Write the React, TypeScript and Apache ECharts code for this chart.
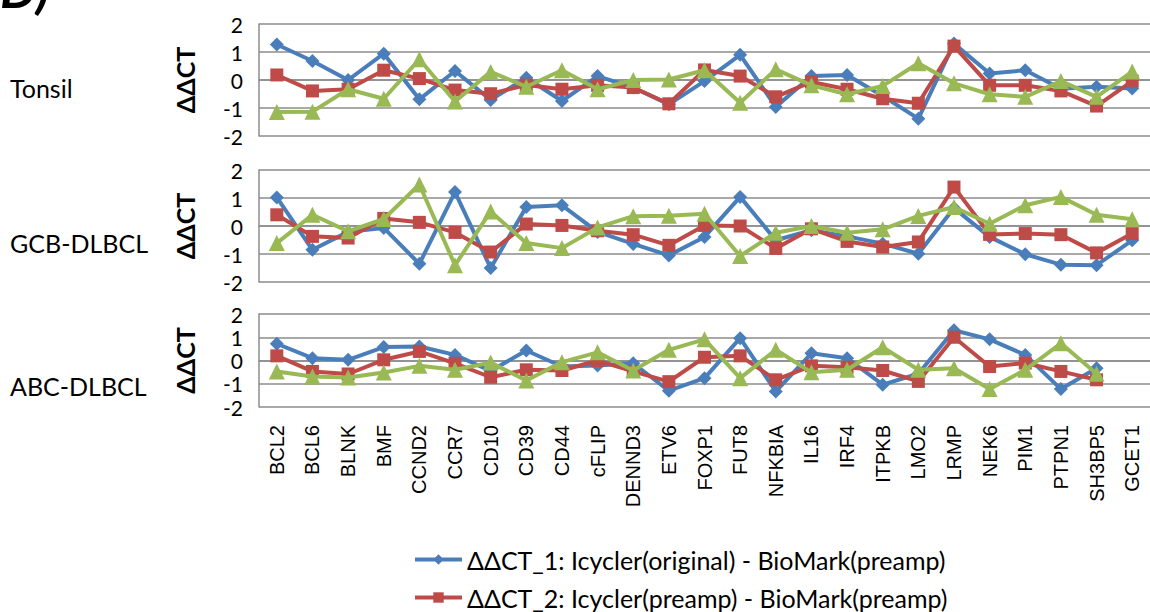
import React, { useEffect, useRef } from "react";
import * as echarts from "echarts";

const genes = ["BCL2","BCL6","BLNK","BMF","CCND2","CCR7","CD10","CD39","CD44","cFLIP","DENND3","ETV6","FOXP1","FUT8","NFKBIA","IL16","IRF4","ITPKB","LMO2","LRMP","NEK6","PIM1","PTPN1","SH3BP5","GCET1"];
const seriesNames = [
  "ΔΔCT_1: Icycler(original) - BioMark(preamp)",
  "ΔΔCT_2: Icycler(preamp) - BioMark(preamp)",
  "ΔΔCT_3: Icycler(preamp) - Icycler(original)",
];
const panelNames = ["Tonsil", "GCB-DLBCL", "ABC-DLBCL"];
const yTicks = [-2, -1, 0, 1, 2];

// Tonsil
const tonsil1 = [1.27,0.68,0,0.94,-0.69,0.32,-0.71,0.08,-0.75,0.14,-0.27,-0.87,-0.04,0.9,-0.96,0.14,0.18,-0.57,-1.38,1.3,0.23,0.35,-0.31,-0.24,-0.3];
const tonsil2 = [0.18,-0.39,-0.33,0.35,0.05,-0.36,-0.49,-0.18,-0.33,-0.19,-0.27,-0.85,0.36,0.14,-0.6,-0.07,-0.33,-0.67,-0.83,1.21,-0.19,-0.19,-0.39,-0.93,-0.04];
const tonsil3 = [-1.14,-1.13,-0.33,-0.67,0.74,-0.77,0.29,-0.24,0.35,-0.33,0,0.02,0.35,-0.81,0.38,-0.19,-0.51,-0.21,0.6,-0.12,-0.51,-0.6,-0.04,-0.6,0.3];
// GCB-DLBCL
const gcb1 = [1.02,-0.85,-0.21,-0.07,-1.35,1.21,-1.5,0.68,0.74,-0.21,-0.64,-1.05,-0.39,1.04,-0.51,-0.15,-0.37,-0.63,-0.99,0.64,-0.39,-1.01,-1.38,-1.4,-0.51];
const gcb2 = [0.4,-0.37,-0.43,0.27,0.13,-0.23,-0.93,0.07,0.02,-0.17,-0.31,-0.69,0.02,0,-0.8,-0.1,-0.55,-0.75,-0.57,1.39,-0.3,-0.27,-0.31,-0.96,-0.27];
const gcb3 = [-0.61,0.4,-0.19,0.25,1.48,-1.4,0.52,-0.61,-0.79,-0.05,0.35,0.37,0.44,-1.07,-0.24,0,-0.24,-0.12,0.36,0.68,0.08,0.74,1.04,0.4,0.24];
// ABC-DLBCL
const abc1 = [0.72,0.1,0.03,0.58,0.6,0.24,-0.45,0.43,-0.26,-0.22,-0.12,-1.3,-0.76,0.96,-1.33,0.31,0.1,-1.04,-0.57,1.3,0.91,0.24,-1.23,-0.33,null];
const abc2 = [0.2,-0.47,-0.58,0.03,0.39,-0.12,-0.72,-0.4,-0.43,0,-0.47,-0.91,0.14,0.2,-0.83,-0.23,-0.29,-0.43,-0.9,1.0,-0.26,-0.11,-0.47,-0.83,null];
const abc3 = [-0.47,-0.69,-0.73,-0.52,-0.23,-0.4,-0.09,-0.86,-0.07,0.35,-0.43,0.46,0.91,-0.76,0.46,-0.51,-0.4,0.57,-0.4,-0.33,-1.23,-0.4,0.74,-0.57,null];

const panelData = [
  [tonsil1, tonsil2, tonsil3],
  [gcb1, gcb2, gcb3],
  [abc1, abc2, abc3],
];

const colors = ["#4A7EBB", "#BE4B48", "#98B954"];
const symbols = ["diamond", "rect", "triangle"];
const symbolSizes = [14, 13, 16];

const grids = [
  { left: 259, top: 24, width: 900, height: 112 },
  { left: 259, top: 170, width: 900, height: 112 },
  { left: 259, top: 314, width: 900, height: 93 },
];
const labelY = [90, 245, 388];
const legendTop = [547, 585, 660];

export default function App() {
  const ref = useRef<HTMLDivElement>(null);
  useEffect(() => {
    document.body.style.margin = "0";
    const chart = echarts.init(ref.current!, undefined, { renderer: "svg" });
    const gridLine = "#8C8C8C";
    const xAxis = grids.map((_, i) => ({
      type: "category",
      gridIndex: i,
      data: genes,
      boundaryGap: true,
      axisLine: { show: true, lineStyle: { color: gridLine, width: 1.5 } },
      axisTick: { show: false },
      axisLabel: i === 2
        ? { show: true, rotate: 90, interval: 0, margin: 18, fontFamily: "Liberation Sans", fontSize: 20, color: "#000" }
        : { show: false },
    }));
    const yAxis = grids.map((_, i) => ({
      type: "value",
      gridIndex: i,
      min: yTicks[0],
      max: yTicks[yTicks.length - 1],
      interval: 1,
      name: "ΔΔCT",
      nameLocation: "middle",
      nameRotate: 90,
      nameGap: 62,
      nameTextStyle: { fontFamily: "Lato", fontWeight: "bold", fontSize: 25, color: "#000" },
      axisLine: { show: true, lineStyle: { color: gridLine, width: 1.5 } },
      axisTick: { show: false },
      axisLabel: { margin: 16, fontFamily: "Lato", fontSize: 21, color: "#000", lineHeight: 21 },
      splitLine: { show: true, lineStyle: { color: gridLine, width: 1.5 } },
    }));
    const series: any[] = [];
    panelData.forEach((sets, p) => {
      sets.forEach((vals, s) => {
        series.push({
          type: "line",
          name: seriesNames[s],
          xAxisIndex: p,
          yAxisIndex: p,
          data: vals,
          symbol: symbols[s],
          symbolSize: symbolSizes[s],
          showAllSymbol: true,
          connectNulls: false,
          lineStyle: { color: colors[s], width: 4 },
          itemStyle: { color: colors[s] },
          z: 2 + s,
        });
      });
    });
    const legend = seriesNames.map((n, i) => ({
      orient: "vertical",
      left: 413,
      top: legendTop[i],
      padding: 0,
      itemWidth: 47,
      itemHeight: 13,
      itemGap: 10,
      data: [n],
      selectedMode: false,
      lineStyle: { width: 4 },
      textStyle: { fontFamily: "Lato", fontSize: 25, lineHeight: 25, color: "#000" },
    }));
    chart.setOption({
      animation: false,
      color: colors,
      grid: grids,
      xAxis,
      yAxis,
      series,
      legend,
      graphic: [
        ...panelNames.map((t, i) => ({
          type: "text",
          left: 10,
          top: labelY[i] - 15,
          style: { text: t, fontFamily: "Lato", fontSize: 25, fill: "#000" },
        })),
        {
          type: "text",
          left: 0,
          top: -38,
          style: { text: "D)", fontFamily: "Lato", fontSize: 52, fontWeight: "bold", fontStyle: "italic", fill: "#000" },
        },
      ],
    });
    return () => chart.dispose();
  }, []);
  return <div ref={ref} style={{ width: 1150, height: 612 }} />;
}
